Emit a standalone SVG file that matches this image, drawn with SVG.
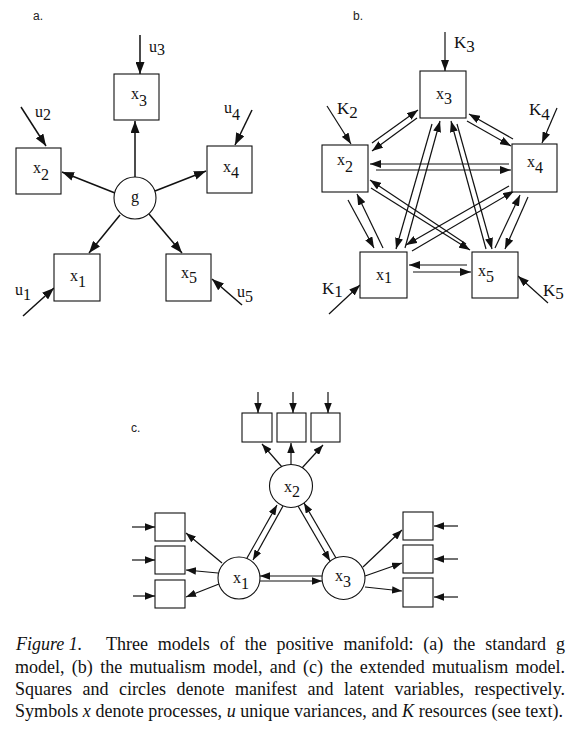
<svg xmlns="http://www.w3.org/2000/svg" width="580" height="736" viewBox="0 0 580 736">
<style>
.bg{fill:#fff}
.box{fill:#fff;stroke:#111;stroke-width:1.1}
.cir{fill:#fff;stroke:#111;stroke-width:1.1}
.lbl{font-family:"Liberation Serif","Times New Roman",serif;font-size:16px;fill:#111}
.big{font-size:17px}
.panel{font-family:"Liberation Sans",Arial,sans-serif;font-size:12px;fill:#222}
.ca{fill:none;stroke:#111;stroke-width:1.5;marker-end:url(#ma)}
.cb{fill:none;stroke:#111;stroke-width:1.2;marker-end:url(#mb)}
.cc{fill:none;stroke:#111;stroke-width:1.2;marker-end:url(#mc)}
.cap{font-family:"Liberation Serif","Times New Roman",serif;font-size:18px;fill:#111}
.it{font-style:italic}
</style>
<defs>
<marker id="ma" viewBox="0 0 12 9" refX="12" refY="4.5" markerWidth="12" markerHeight="9" markerUnits="userSpaceOnUse" orient="auto"><path d="M0,0 L12,4.5 L0,9 z" fill="#111"/></marker>
<marker id="mb" viewBox="0 0 11 8" refX="11" refY="4" markerWidth="11" markerHeight="8" markerUnits="userSpaceOnUse" orient="auto"><path d="M0,0 L11,4 L0,8 z" fill="#111"/></marker>
<marker id="mc" viewBox="0 0 10 7.5" refX="10" refY="3.75" markerWidth="10" markerHeight="7.5" markerUnits="userSpaceOnUse" orient="auto"><path d="M0,0 L10,3.75 L0,7.5 z" fill="#111"/></marker>
</defs>
<rect class="bg" x="0" y="0" width="580" height="736"/>

<!-- Panel a -->
<text class="panel" x="33" y="20">a.</text>
<g id="a-connectors">
<line class="ca" x1="140" y1="35" x2="140" y2="74"/>
<line class="ca" x1="21" y1="107" x2="46" y2="146"/>
<line class="ca" x1="252" y1="110" x2="235" y2="145"/>
<line class="ca" x1="23" y1="316" x2="54" y2="288"/>
<line class="ca" x1="242" y1="305" x2="212" y2="279"/>
<line class="ca" x1="135" y1="177" x2="135" y2="121"/>
<line class="ca" x1="115" y1="193" x2="62" y2="172"/>
<line class="ca" x1="155" y1="191" x2="206" y2="171"/>
<line class="ca" x1="120" y1="215" x2="89" y2="253"/>
<line class="ca" x1="149" y1="214" x2="182" y2="253"/>
</g>
<g id="a-g"><circle class="cir" cx="135" cy="198" r="21"/><text class="lbl" x="135" y="202" font-size="19" text-anchor="middle">g</text></g>
<g id="a-x3"><rect class="box" x="114" y="74" width="45" height="46"/><text class="lbl" x="131" y="99">x<tspan dy="7">3</tspan></text></g>
<g id="a-x2"><rect class="box" x="16" y="148" width="45" height="46"/><text class="lbl" x="33" y="173">x<tspan dy="7">2</tspan></text></g>
<g id="a-x4"><rect class="box" x="207" y="146" width="45" height="47"/><text class="lbl" x="223" y="172">x<tspan dy="6">4</tspan></text></g>
<g id="a-x1"><rect class="box" x="54" y="254" width="46" height="47"/><text class="lbl" x="70" y="281">x<tspan dy="6">1</tspan></text></g>
<g id="a-x5"><rect class="box" x="166" y="254" width="45" height="47"/><text class="lbl" x="181" y="278">x<tspan dy="5">5</tspan></text></g>
<g id="a-u-labels">
<text class="lbl" x="149" y="52">u<tspan dy="3">3</tspan></text>
<text class="lbl" x="35" y="117">u<tspan dy="3">2</tspan></text>
<text class="lbl" x="224" y="113">u<tspan dy="7">4</tspan></text>
<text class="lbl" x="15" y="295">u<tspan dy="5">1</tspan></text>
<text class="lbl" x="237" y="297">u<tspan dy="5">5</tspan></text>
</g>

<!-- Panel b -->
<text class="panel" x="353" y="20">b.</text>
<g id="b-connectors">
<line class="cb" x1="445" y1="32" x2="445" y2="71"/>
<line class="cb" x1="327" y1="106" x2="351" y2="144"/>
<line class="cb" x1="557" y1="108" x2="542" y2="143"/>
<line class="cb" x1="329" y1="314" x2="360" y2="285"/>
<line class="cb" x1="548" y1="303" x2="518" y2="276"/>
<!-- x2-x3 -->
<line class="cb" x1="372" y1="143" x2="418" y2="110"/>
<line class="cb" x1="417" y1="118" x2="372" y2="151"/>
<!-- x3-x4 -->
<line class="cb" x1="467" y1="121" x2="511" y2="146"/>
<line class="cb" x1="513" y1="139" x2="469" y2="114"/>
<!-- x2-x4 -->
<line class="cb" x1="509" y1="164" x2="370" y2="164"/>
<line class="cb" x1="376" y1="170" x2="511" y2="170"/>
<!-- x2-x1 -->
<line class="cb" x1="348" y1="200" x2="374" y2="248"/>
<line class="cb" x1="383" y1="248" x2="357" y2="194"/>
<!-- x4-x5 -->
<line class="cb" x1="495" y1="248" x2="520" y2="195"/>
<line class="cb" x1="528" y1="197" x2="505" y2="249"/>
<!-- x1-x5 -->
<line class="cb" x1="467" y1="265" x2="409" y2="265"/>
<line class="cb" x1="413" y1="272" x2="471" y2="272"/>
<!-- x1-x3 -->
<line class="cb" x1="405" y1="248" x2="440" y2="121"/>
<line class="cb" x1="432" y1="124" x2="396" y2="249"/>
<!-- x3-x5 -->
<line class="cb" x1="486" y1="249" x2="451" y2="121"/>
<line class="cb" x1="457" y1="124" x2="492" y2="249"/>
<!-- x2-x5 -->
<line class="cb" x1="371" y1="188" x2="470" y2="250"/>
<line class="cb" x1="466" y1="244" x2="370" y2="180"/>
<!-- x4-x1 -->
<line class="cb" x1="509" y1="186" x2="406" y2="245"/>
<line class="cb" x1="412" y1="251" x2="514" y2="191"/>
</g>
<g id="b-x3"><rect class="box" x="420" y="71" width="46" height="47"/><text class="lbl" x="436" y="99">x<tspan dy="5">3</tspan></text></g>
<g id="b-x2"><rect class="box" x="322" y="145" width="46" height="47"/><text class="lbl" x="337" y="165">x<tspan dy="7">2</tspan></text></g>
<g id="b-x4"><rect class="box" x="512" y="144" width="45" height="48"/><text class="lbl" x="527" y="167">x<tspan dy="6">4</tspan></text></g>
<g id="b-x1"><rect class="box" x="360" y="252" width="47" height="46"/><text class="lbl" x="376" y="280">x<tspan dy="3">1</tspan></text></g>
<g id="b-x5"><rect class="box" x="472" y="252" width="46" height="46"/><text class="lbl" x="478" y="276">x<tspan dy="6">5</tspan></text></g>
<g id="b-k-labels">
<text class="lbl big" x="454" y="48">K<tspan dy="4">3</tspan></text>
<text class="lbl big" x="337" y="114">K<tspan dy="4">2</tspan></text>
<text class="lbl big" x="529" y="115">K<tspan dy="5">4</tspan></text>
<text class="lbl big" x="322" y="294">K<tspan dy="3">1</tspan></text>
<text class="lbl big" x="543" y="296">K<tspan dy="3">5</tspan></text>
</g>

<!-- Panel c -->
<text class="panel" x="131" y="432">c.</text>
<g id="c-connectors">
<line class="cc" x1="258" y1="392" x2="258" y2="413"/>
<line class="cc" x1="293" y1="392" x2="293" y2="413"/>
<line class="cc" x1="328" y1="392" x2="328" y2="413"/>
<line class="cc" x1="282" y1="467" x2="262" y2="444"/>
<line class="cc" x1="291" y1="465" x2="291" y2="443"/>
<line class="cc" x1="302" y1="468" x2="323" y2="445"/>
<line class="cc" x1="132" y1="527" x2="155" y2="527"/>
<line class="cc" x1="132" y1="560" x2="155" y2="560"/>
<line class="cc" x1="133" y1="596" x2="155" y2="596"/>
<line class="cc" x1="222" y1="563" x2="186" y2="533"/>
<line class="cc" x1="218" y1="573" x2="186" y2="570"/>
<line class="cc" x1="219" y1="584" x2="186" y2="597"/>
<line class="cc" x1="458" y1="526" x2="434" y2="526"/>
<line class="cc" x1="458" y1="559" x2="434" y2="559"/>
<line class="cc" x1="458" y1="597" x2="434" y2="597"/>
<line class="cc" x1="363" y1="567" x2="402" y2="530"/>
<line class="cc" x1="365" y1="576" x2="402" y2="563"/>
<line class="cc" x1="365" y1="587" x2="402" y2="591"/>
<line class="cc" x1="247" y1="558" x2="277" y2="505"/>
<line class="cc" x1="283" y1="506" x2="253" y2="560"/>
<line class="cc" x1="298" y1="506" x2="330" y2="561"/>
<line class="cc" x1="336" y1="558" x2="304" y2="503"/>
<line class="cc" x1="322" y1="576" x2="260" y2="576"/>
<line class="cc" x1="260" y1="581" x2="322" y2="581"/>
</g>
<g id="c-top1"><rect class="box" x="242" y="413" width="30" height="29"/></g>
<g id="c-top2"><rect class="box" x="277" y="413" width="29" height="29"/></g>
<g id="c-top3"><rect class="box" x="311" y="413" width="29" height="29"/></g>
<g id="c-left1"><rect class="box" x="155" y="513" width="30" height="28"/></g>
<g id="c-left2"><rect class="box" x="155" y="546" width="30" height="28"/></g>
<g id="c-left3"><rect class="box" x="155" y="580" width="30" height="28"/></g>
<g id="c-right1"><rect class="box" x="403" y="512" width="30" height="28"/></g>
<g id="c-right2"><rect class="box" x="403" y="545" width="30" height="28"/></g>
<g id="c-right3"><rect class="box" x="403" y="578" width="30" height="29"/></g>
<g id="c-x2"><circle class="cir" cx="291" cy="486" r="21.5"/><text class="lbl" x="284" y="492">x<tspan dy="5">2</tspan></text></g>
<g id="c-x1"><circle class="cir" cx="239" cy="578" r="21"/><text class="lbl" x="233" y="583">x<tspan dy="6">1</tspan></text></g>
<g id="c-x3"><circle class="cir" cx="343.5" cy="578" r="21.5"/><text class="lbl" x="335" y="581">x<tspan dy="6">3</tspan></text></g>

<!-- Caption -->
<g id="caption">
<text class="cap it" x="16" y="650">Figure 1.</text>
<text class="cap" x="106" y="650" word-spacing="5.4" textLength="459" lengthAdjust="spacing">Three models of the positive manifold: (a) the standard g</text>
<text class="cap" x="15" y="672.5" word-spacing="2.8" textLength="550" lengthAdjust="spacing">model, (b) the mutualism model, and (c) the extended mutualism model.</text>
<text class="cap" x="15" y="695" word-spacing="5.9" textLength="550" lengthAdjust="spacing">Squares and circles denote manifest and latent variables, respectively.</text>
<text class="cap" x="15" y="717" textLength="548" lengthAdjust="spacing">Symbols <tspan class="it">x</tspan> denote processes, <tspan class="it">u</tspan> unique variances, and <tspan class="it">K</tspan> resources (see text).</text>
</g>
</svg>
